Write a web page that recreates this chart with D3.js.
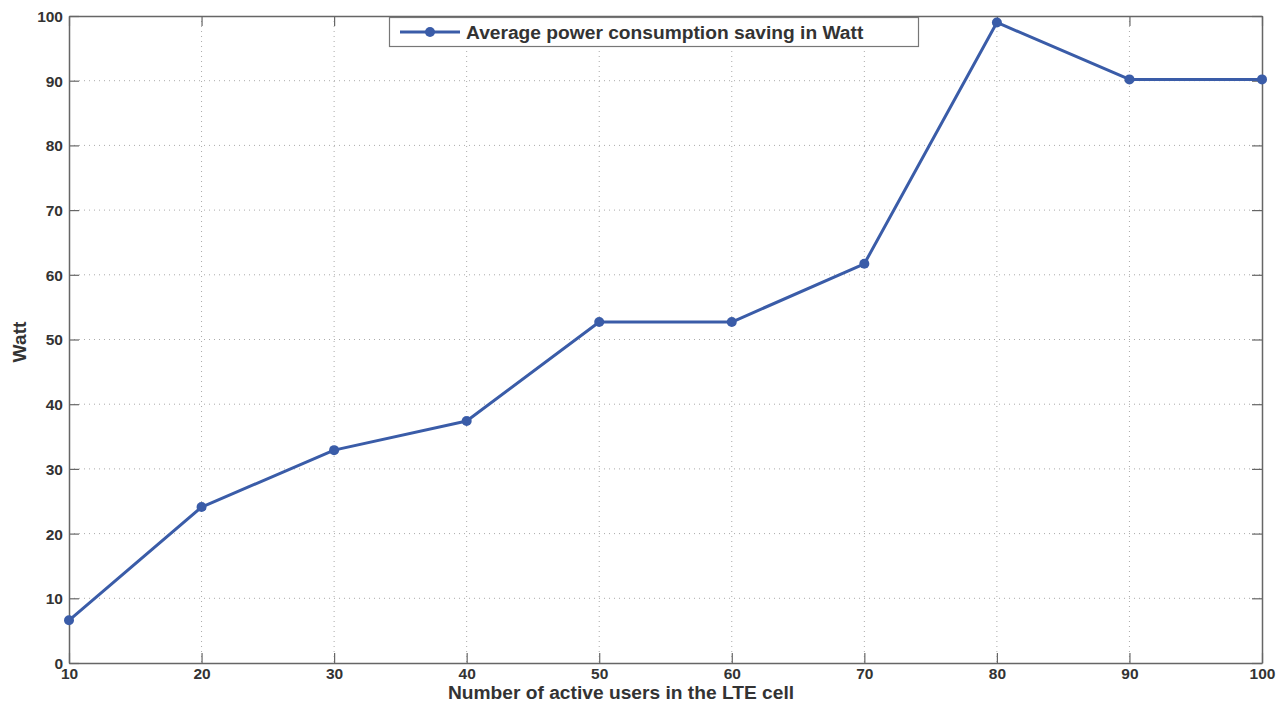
<!DOCTYPE html>
<html><head><meta charset="utf-8">
<script src="https://cdn.jsdelivr.net/npm/d3@7"></script>
<style>body{margin:0;background:#fff}text{font-family:"Liberation Sans",Arial,sans-serif;font-weight:bold;fill:#333}</style>
</head><body><svg id="c" width="1285" height="702"></svg>
<script>
const users = [10,20,30,40,50,60,70,80,90,100];
const saving = [6.6,24.1,32.9,37.4,52.7,52.7,61.7,99.0,90.2,90.2];
const xTicks = [10,20,30,40,50,60,70,80,90,100];
const yTicks = [0,10,20,30,40,50,60,70,80,90,100];
const seriesName = "Average power consumption saving in Watt";
const xTitle = "Number of active users in the LTE cell";
const yTitle = "Watt";

const L=69,R=1262,T=16,B=663;
const svg=d3.select("#c");
const x=d3.scaleLinear().domain([10,100]).range([L,R]);
const y=d3.scaleLinear().domain([0,100]).range([B,T]);
const col="#3a5ca8", ax="#666";

// grid
const g=svg.append("g");
g.selectAll(".gx").data(xTicks.slice(1,-1)).join("line")
 .attr("x1",d=>x(d)).attr("x2",d=>x(d)).attr("y1",T).attr("y2",B)
 .attr("stroke","#aaa").attr("stroke-width",1).attr("stroke-dasharray","1,4");
g.selectAll(".gy").data(yTicks.slice(1,-1)).join("line")
 .attr("y1",d=>y(d)).attr("y2",d=>y(d)).attr("x1",L).attr("x2",R)
 .attr("stroke","#aaa").attr("stroke-width",1).attr("stroke-dasharray","1,4");

// axes
const tl=10;
const xb=svg.append("g").attr("transform",`translate(0,${B})`).call(d3.axisBottom(x).tickValues(xTicks).tickSizeInner(-tl).tickSizeOuter(0).tickPadding(0));
const xt=svg.append("g").attr("transform",`translate(0,${T})`).call(d3.axisTop(x).tickValues(xTicks).tickSizeInner(-tl).tickSizeOuter(0).tickFormat(""));
const yl=svg.append("g").attr("transform",`translate(${L},0)`).call(d3.axisLeft(y).tickValues(yTicks).tickSizeInner(-tl).tickSizeOuter(0).tickPadding(6));
const yr=svg.append("g").attr("transform",`translate(${R},0)`).call(d3.axisRight(y).tickValues(yTicks).tickSizeInner(-tl).tickSizeOuter(0).tickFormat(""));
[xb,xt,yl,yr].forEach(a=>{a.selectAll("path").attr("stroke",ax).attr("stroke-width",1.5);a.selectAll("line").attr("stroke",ax).attr("stroke-width",1.2);a.selectAll("text").style("font-size","15.5px").style("font-family","'Liberation Sans',Arial,sans-serif").style("font-weight","bold").attr("fill","#333");});
xb.selectAll("text").attr("y",16).attr("dy",null);
yl.selectAll("text").attr("dy","0.35em");

// line
const line=d3.line().x((d,i)=>x(users[i])).y(d=>y(d));
svg.append("path").datum(saving).attr("d",line).attr("fill","none").attr("stroke",col).attr("stroke-width",3).attr("stroke-linejoin","round");
svg.selectAll(".pt").data(saving).join("circle").attr("cx",(d,i)=>x(users[i])).attr("cy",d=>y(d)).attr("r",5).attr("fill",col);

// titles
svg.append("text").attr("x",621).attr("y",699).attr("text-anchor","middle").style("font-size","19.2px").text(xTitle);
svg.append("text").attr("transform","translate(26,342) rotate(-90)").attr("text-anchor","middle").style("font-size","19.2px").text(yTitle);

// legend
const lg=svg.append("g");
lg.append("rect").attr("x",389.5).attr("y",17.5).attr("width",529).attr("height",29).attr("fill","#fff").attr("stroke","#777").attr("stroke-width",1.2);
lg.append("line").attr("x1",400).attr("x2",460).attr("y1",32).attr("y2",32).attr("stroke",col).attr("stroke-width",3);
lg.append("circle").attr("cx",430).attr("cy",32).attr("r",5).attr("fill",col);
lg.append("text").attr("x",466).attr("y",39).style("font-size","19.2px").text(seriesName);
</script></body></html>
